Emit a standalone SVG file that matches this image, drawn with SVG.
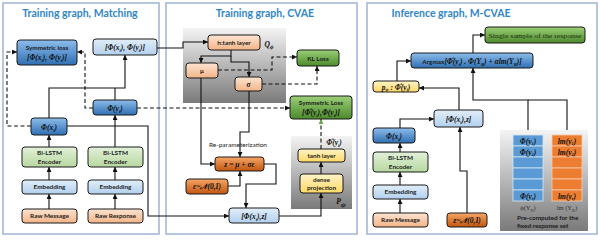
<svg xmlns="http://www.w3.org/2000/svg" width="600" height="240" viewBox="0 0 600 240">
<defs>
<linearGradient id="gBlue" x1="0" y1="0" x2="0" y2="1"><stop offset="0" stop-color="#8DBDEB"/><stop offset="1" stop-color="#2F6FB3"/></linearGradient>
<linearGradient id="gLBlue" x1="0" y1="0" x2="0" y2="1"><stop offset="0" stop-color="#E1EEF9"/><stop offset="1" stop-color="#B3D0EE"/></linearGradient>
<linearGradient id="gLGreen" x1="0" y1="0" x2="0" y2="1"><stop offset="0" stop-color="#E2F0D9"/><stop offset="1" stop-color="#B7D8A0"/></linearGradient>
<linearGradient id="gPeach" x1="0" y1="0" x2="0" y2="1"><stop offset="0" stop-color="#FCE4D3"/><stop offset="1" stop-color="#F4B487"/></linearGradient>
<linearGradient id="gOrange" x1="0" y1="0" x2="0" y2="1"><stop offset="0" stop-color="#F6A667"/><stop offset="1" stop-color="#C2560F"/></linearGradient>
<linearGradient id="gGreen" x1="0" y1="0" x2="0" y2="1"><stop offset="0" stop-color="#9BCF78"/><stop offset="1" stop-color="#4C8A2B"/></linearGradient>
<linearGradient id="gYellow" x1="0" y1="0" x2="0" y2="1"><stop offset="0" stop-color="#FFF4C8"/><stop offset="1" stop-color="#FFD966"/></linearGradient>
<linearGradient id="gGray" x1="0" y1="0" x2="0" y2="1"><stop offset="0" stop-color="#F4F4F4"/><stop offset="1" stop-color="#7A7A7A"/></linearGradient>
<marker id="ar" viewBox="0 0 6 6" refX="6" refY="3" markerWidth="5" markerHeight="5" markerUnits="userSpaceOnUse" orient="auto"><path d="M0,0 L6,3 L0,6 z" fill="#111"/></marker>
<marker id="arg" viewBox="0 0 6 6" refX="6" refY="3" markerWidth="5" markerHeight="5" markerUnits="userSpaceOnUse" orient="auto"><path d="M0,0 L6,3 L0,6 z" fill="#6AA84F"/></marker>
</defs>
<style>
.panel{fill:#fff;stroke:#9FB2D6;stroke-width:1.5}
.title{font-family:Lato,"Liberation Sans",sans-serif;font-weight:bold;font-size:10.5px;fill:#2F86C8;text-anchor:middle}
.bx{stroke:#1a1a1a;stroke-width:1;rx:3;ry:3}
.t{font-family:Lato,"Liberation Sans",sans-serif;font-weight:bold;font-size:6.4px;fill:#1a1a1a;text-anchor:middle}
.m{font-family:"Liberation Serif",serif;font-style:italic;font-weight:bold;font-size:7.5px;fill:#111;text-anchor:middle}
.r{font-family:"Liberation Serif",serif;font-size:6.5px;fill:#333;text-anchor:middle}
.ln{stroke:#111;stroke-width:1.1;fill:none}
.d{stroke-dasharray:4 2.5}
.n{font-style:normal}
</style>

<!-- panels -->
<rect class="panel" x="3" y="3" width="156" height="231"/>
<rect class="panel" x="166" y="3" width="191" height="231"/>
<rect class="panel" x="367" y="3" width="230" height="231"/>
<text class="title" x="80" y="17">Training graph, Matching</text>
<text class="title" x="265" y="17">Training graph, CVAE</text>
<text class="title" x="451" y="17">Inference graph, M-CVAE</text>

<!-- gray backgrounds -->
<g id="q-phi">
<rect x="183" y="28" width="103" height="75" fill="url(#gGray)"/>
<text class="m" x="269" y="47" font-size="9" font-weight="normal">Q<tspan font-size="6" dy="2">ϕ</tspan></text>
</g>
<g id="p-psi">
<rect x="291" y="136" width="61" height="73" fill="url(#gGray)"/>
<text class="m" x="341" y="204" font-size="11" font-weight="normal">P<tspan font-size="7" dy="2.5">ψ</tspan></text>
</g>
<g id="precomputed">
<rect x="500" y="130" width="88" height="101" fill="url(#gGray)"/>
</g>

<!-- connectors -->
<g id="connectors">
<path class="ln" d="M49,209 V194" marker-end="url(#ar)"/>
<path class="ln" d="M49,180 V167" marker-end="url(#ar)"/>
<path class="ln" d="M49,147 V135" marker-end="url(#ar)"/>
<path class="ln" d="M115,209 V194" marker-end="url(#ar)"/>
<path class="ln" d="M115,180 V167" marker-end="url(#ar)"/>
<path class="ln" d="M115,147 V115" marker-end="url(#ar)"/>
<path class="ln" d="M49,118 V88 H125 V55" marker-end="url(#ar)"/>
<path class="ln" d="M115,100 V88"/>
<path class="ln d" d="M31,126 H7 V52 H17" marker-end="url(#ar)"/>
<path class="ln d" d="M93,108 H85 V52 H77" marker-end="url(#ar)"/>
<path class="ln d" d="M137,108 H290" marker-end="url(#ar)"/>
<path class="ln" d="M67,126 H148 V216 H229" marker-end="url(#ar)"/>
<path class="ln" d="M157,48 H183 V42 H208" marker-end="url(#ar)"/>
<path class="ln" d="M231,50 V56 H201 V63" marker-end="url(#ar)"/>
<path class="ln" d="M231,56 V62 H249 V77" marker-end="url(#ar)"/>
<path class="ln d" d="M218,70 H272 V57 H297" marker-end="url(#ar)"/>
<path class="ln d" d="M262,84 H317 V66" marker-end="url(#ar)"/>
<path class="ln" d="M201,78 V164 H215" marker-end="url(#ar)"/>
<path class="ln" d="M249,91 V132 H240 V157" marker-end="url(#ar)"/>
<path class="ln" d="M228,186 H240 V171" marker-end="url(#ar)"/>
<path class="ln" d="M264,164 H276 V184 H246 V208" marker-end="url(#ar)"/>
<path class="ln" d="M279,216 H321 V193" marker-end="url(#ar)"/>
<path class="ln" d="M321,174 V162" marker-end="url(#ar)"/>
<path class="ln d" d="M321,149 V119" stroke="#6AA84F" marker-end="url(#arg)"/>
<path class="ln" d="M473,53 V35 H485" marker-end="url(#ar)"/>
<path class="ln" d="M397,81 V61 H411" marker-end="url(#ar)"/>
<path class="ln" d="M459,110 V88 H419" marker-end="url(#ar)"/>
<path class="ln" d="M400,128 V119 H434" marker-end="url(#ar)"/>
<path class="ln" d="M400,152 V143" marker-end="url(#ar)"/>
<path class="ln" d="M400,185 V172" marker-end="url(#ar)"/>
<path class="ln" d="M400,213 V199" marker-end="url(#ar)"/>
<path class="ln" d="M467,213 V171 H460 V127" marker-end="url(#ar)"/>
<path class="ln" d="M528,130 V100 H473 V68" marker-end="url(#ar)"/>
<path class="ln" d="M567,130 V100 H528"/>
</g>

<!-- panel 1 nodes -->
<g id="sym-loss-1"><rect class="bx" x="17" y="40" width="60" height="25" fill="url(#gBlue)"/>
<text class="t" x="47" y="50">Symmetric loss</text>
<text class="m" x="47" y="60" font-size="7">[Φ(x<tspan font-size="4.5" dy="1.5">i</tspan><tspan dy="-1.5">), Φ(y</tspan><tspan font-size="4.5" dy="1.5">i</tspan><tspan dy="-1.5">)]</tspan></text></g>
<g id="concat-1"><rect class="bx" x="93" y="39" width="64" height="16" fill="url(#gLBlue)"/>
<text class="m" x="125" y="50" font-size="7.5">[Φ(x<tspan font-size="4.5" dy="1.5">i</tspan><tspan dy="-1.5">), Φ(y</tspan><tspan font-size="4.5" dy="1.5">i</tspan><tspan dy="-1.5">)]</tspan></text></g>
<g id="phi-y-1"><rect class="bx" x="93" y="100" width="44" height="15" fill="url(#gBlue)"/>
<text class="m" x="115" y="111" font-size="8">Φ(y<tspan font-size="5" dy="1.5">i</tspan><tspan dy="-1.5">)</tspan></text></g>
<g id="phi-x-1"><rect class="bx" x="31" y="118" width="36" height="17" fill="url(#gBlue)"/>
<text class="m" x="49" y="130" font-size="8">Φ(x<tspan font-size="5" dy="1.5">i</tspan><tspan dy="-1.5">)</tspan></text></g>
<g id="bilstm-1a"><rect class="bx" x="22" y="147" width="55" height="20" fill="url(#gLGreen)"/>
<text class="t" x="49.5" y="155">Bi-LSTM</text><text class="t" x="49.5" y="163.5">Encoder</text></g>
<g id="bilstm-1b"><rect class="bx" x="88" y="147" width="55" height="20" fill="url(#gLGreen)"/>
<text class="t" x="115.5" y="155">Bi-LSTM</text><text class="t" x="115.5" y="163.5">Encoder</text></g>
<g id="emb-1a"><rect class="bx" x="22" y="180" width="55" height="14" fill="url(#gLBlue)"/><text class="t" x="49.5" y="189.3">Embedding</text></g>
<g id="emb-1b"><rect class="bx" x="88" y="180" width="55" height="14" fill="url(#gLBlue)"/><text class="t" x="115.5" y="189.3">Embedding</text></g>
<g id="raw-msg-1"><rect class="bx" x="22" y="209" width="55" height="14" fill="url(#gPeach)"/><text class="t" x="49.5" y="218.3">Raw Message</text></g>
<g id="raw-resp-1"><rect class="bx" x="88" y="209" width="55" height="14" fill="url(#gPeach)"/><text class="t" x="115.5" y="218.3">Raw Response</text></g>

<!-- panel 2 nodes -->
<g id="htanh"><rect class="bx" x="208" y="35" width="52" height="15" fill="url(#gPeach)"/><text class="t" x="234" y="45">h:tanh layer</text></g>
<g id="mu"><rect class="bx" x="186" y="63" width="32" height="15" fill="url(#gPeach)"/><text class="t" x="202" y="73" font-size="7.5">μ</text></g>
<g id="sigma"><rect class="bx" x="235" y="77" width="27" height="14" fill="url(#gPeach)"/><text class="m" x="248.5" y="87">σ</text></g>
<g id="kl-loss"><rect class="bx" x="297" y="50" width="42" height="16" fill="url(#gGreen)"/><text class="t" x="318" y="61" font-size="7.5">KL Loss</text></g>
<g id="sym-loss-2"><rect class="bx" x="290" y="96" width="62" height="23" fill="url(#gGreen)"/>
<text class="t" x="321" y="105">Symmetric Loss</text>
<text class="m" x="321" y="115" font-size="7">[Φ̂(y<tspan font-size="4.5" dy="1.5">i</tspan><tspan dy="-1.5">),Φ(y</tspan><tspan font-size="4.5" dy="1.5">i</tspan><tspan dy="-1.5">)]</tspan></text></g>
<text class="m" x="334" y="145" font-size="6.5" font-weight="normal">Φ̂(y<tspan font-size="4.5" dy="1.5">i</tspan><tspan dy="-1.5">)</tspan></text>
<g id="tanh"><rect class="bx" x="298" y="149" width="47" height="13" fill="url(#gYellow)"/><text class="t" x="321.5" y="158">tanh layer</text></g>
<g id="dense"><rect class="bx" x="300" y="174" width="43" height="19" fill="url(#gYellow)"/>
<text class="t" x="321.5" y="182">dense</text><text class="t" x="321.5" y="190">projection</text></g>
<text x="238" y="147" font-family="Lato,'Liberation Sans',sans-serif" font-size="6.5" fill="#222" text-anchor="middle">Re-parameterization</text>
<g id="z-node"><rect class="bx" x="215" y="157" width="49" height="14" fill="url(#gOrange)"/><text class="m" x="239.5" y="167" font-size="7">z = μ + σε</text></g>
<g id="eps-2"><rect class="bx" x="186" y="179" width="42" height="15" fill="url(#gOrange)"/><text class="m" x="207" y="189" font-size="7">ε~𝒩(0,<tspan>I</tspan>)</text></g>
<g id="concat-z-2"><rect class="bx" x="229" y="208" width="50" height="15" fill="url(#gLBlue)"/>
<text class="m" x="254" y="219" font-size="7">[Φ(x<tspan font-size="4.5" dy="1.5">i</tspan><tspan dy="-1.5">),z]</tspan></text></g>

<!-- panel 3 nodes -->
<g id="single"><rect class="bx" x="485" y="27" width="100" height="16" fill="url(#gGreen)"/>
<text x="535" y="38" font-family="'Liberation Serif',serif" font-size="7" fill="#1a2a10" text-anchor="middle" textLength="93" lengthAdjust="spacingAndGlyphs">Single sample of the response</text></g>
<g id="argmax"><rect class="bx" x="411" y="53" width="122" height="15" fill="url(#gBlue)"/>
<text class="m" x="472" y="64" font-size="7"><tspan class="t n" font-size="6.4">Argmax</tspan>[Φ̂(y<tspan font-size="4.5" dy="1.5">i</tspan><tspan dy="-1.5">) . Φ(Y</tspan><tspan font-size="4.5" dy="1.5">R</tspan><tspan dy="-1.5">) + αlm(Y</tspan><tspan font-size="4.5" dy="1.5">R</tspan><tspan dy="-1.5">)]</tspan></text></g>
<g id="p-node"><rect class="bx" x="373" y="81" width="46" height="11" fill="url(#gYellow)"/>
<text class="m" x="396" y="89.5" font-size="6.5">p<tspan font-size="4.5" dy="1.5">ψ</tspan><tspan dy="-1.5"> : Φ̂(y</tspan><tspan font-size="4.5" dy="1.5">i</tspan><tspan dy="-1.5">)</tspan></text></g>
<g id="concat-z-3"><rect class="bx" x="434" y="110" width="49" height="17" fill="url(#gLBlue)"/>
<text class="m" x="458.5" y="122" font-size="7">[Φ(x<tspan font-size="4.5" dy="1.5">i</tspan><tspan dy="-1.5">),z]</tspan></text></g>
<g id="phi-x-3"><rect class="bx" x="373" y="128" width="42" height="15" fill="url(#gBlue)"/>
<text class="m" x="394" y="139" font-size="8">Φ(x<tspan font-size="5" dy="1.5">i</tspan><tspan dy="-1.5">)</tspan></text></g>
<g id="bilstm-3"><rect class="bx" x="373" y="152" width="55" height="20" fill="url(#gLGreen)"/>
<text class="t" x="400.5" y="160">Bi-LSTM</text><text class="t" x="400.5" y="168.5">Encoder</text></g>
<g id="emb-3"><rect class="bx" x="373" y="185" width="55" height="14" fill="url(#gLBlue)"/><text class="t" x="400.5" y="194.3">Embedding</text></g>
<g id="raw-msg-3"><rect class="bx" x="373" y="213" width="55" height="14" fill="url(#gPeach)"/><text class="t" x="400.5" y="222.3">Raw Message</text></g>
<g id="eps-3"><rect class="bx" x="447" y="213" width="40" height="14" fill="url(#gOrange)"/><text class="m" x="467" y="222.5" font-size="7">z~𝒩(0,I)</text></g>

<g id="phi-column" stroke="#D6E6F5" stroke-width="0.8">
<rect x="513" y="135" width="30" height="11" fill="#5B9BD5"/>
<rect x="513" y="146" width="30" height="11" fill="#5B9BD5"/>
<rect x="513" y="157" width="30" height="11" fill="#5B9BD5"/>
<rect x="513" y="168" width="30" height="11" fill="#5B9BD5"/>
<rect x="513" y="179" width="30" height="11" fill="#5B9BD5"/>
<rect x="513" y="190" width="30" height="11" fill="#5B9BD5"/>
</g>
<g id="lm-column" stroke="#F8CBAD" stroke-width="0.8">
<rect x="552" y="135" width="30" height="11" fill="#ED7D31"/>
<rect x="552" y="146" width="30" height="11" fill="#ED7D31"/>
<rect x="552" y="157" width="30" height="11" fill="#ED7D31"/>
<rect x="552" y="168" width="30" height="11" fill="#ED7D31"/>
<rect x="552" y="179" width="30" height="11" fill="#ED7D31"/>
<rect x="552" y="190" width="30" height="11" fill="#ED7D31"/>
</g>
<g font-size="7">
<text class="m" x="528" y="143.5" font-size="7">Φ(y<tspan font-size="4.5" dy="1.5">1</tspan><tspan dy="-1.5">)</tspan></text>
<text class="m" x="528" y="154.5" font-size="7">Φ(y<tspan font-size="4.5" dy="1.5">2</tspan><tspan dy="-1.5">)</tspan></text>
<text class="m" x="528" y="198.5" font-size="7">Φ(y<tspan font-size="4.5" dy="1.5">r</tspan><tspan dy="-1.5">)</tspan></text>
<text class="m" x="567" y="143.5" font-size="7">lm(y<tspan font-size="4.5" dy="1.5">1</tspan><tspan dy="-1.5">)</tspan></text>
<text class="m" x="567" y="154.5" font-size="7">lm(y<tspan font-size="4.5" dy="1.5">2</tspan><tspan dy="-1.5">)</tspan></text>
<text class="m" x="567" y="198.5" font-size="7">lm(y<tspan font-size="4.5" dy="1.5">r</tspan><tspan dy="-1.5">)</tspan></text>
</g>
<text class="r" x="528" y="210">ϕ(Y<tspan font-size="4.5" dy="1.5">R</tspan><tspan dy="-1.5">)</tspan></text>
<text class="r" x="567" y="210">lm (Y<tspan font-size="4.5" dy="1.5">R</tspan><tspan dy="-1.5">)</tspan></text>
<text class="t" x="517" y="219.5" style="text-anchor:start">Pre-computed for the</text>
<text class="t" x="517" y="227.5" style="text-anchor:start">fixed response set</text>
</svg>
